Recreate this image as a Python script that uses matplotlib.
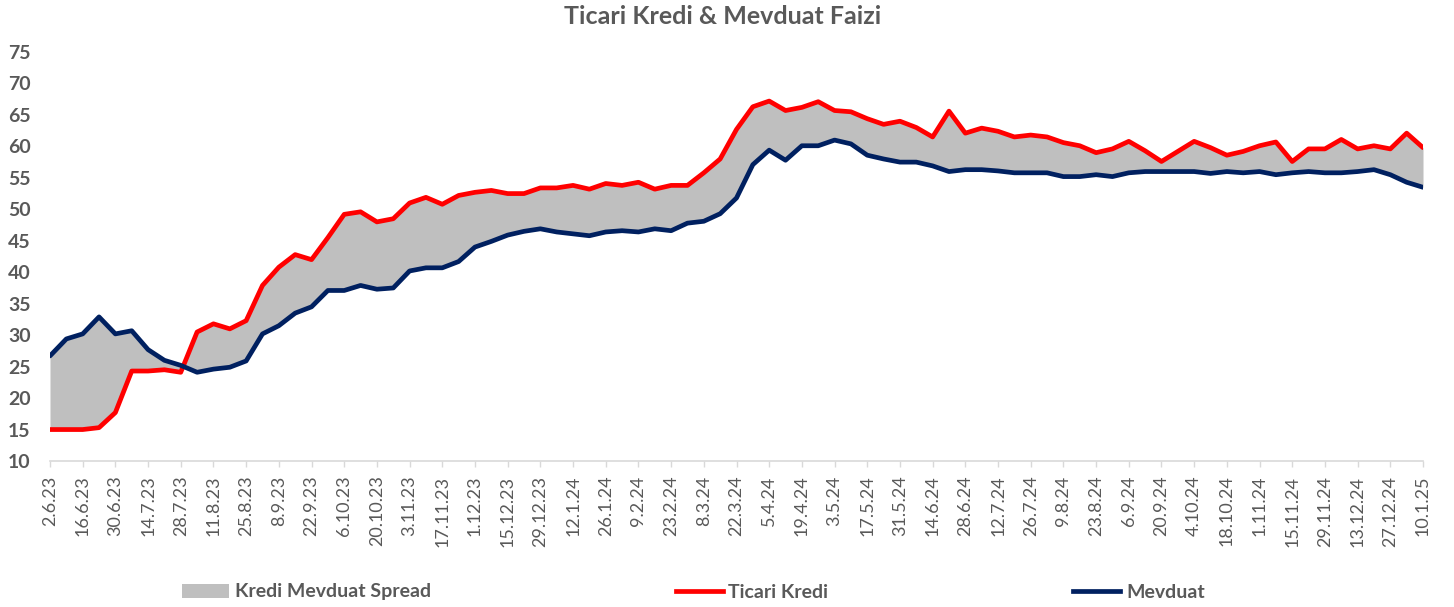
import numpy as np
import pandas as pd
import matplotlib
matplotlib.use("Agg")
import matplotlib.pyplot as plt
from matplotlib.patches import Patch
from matplotlib.lines import Line2D

plt.rcParams['font.family'] = ['Lato', 'DejaVu Sans']

# weekly dates, 2.6.23 .. 10.1.25
dates = pd.date_range("2023-06-02", "2025-01-10", freq="7D")
labels = [f"{d.day}.{d.month}.{d:%y}" for d in dates]

ticari = [15.0, 15.0, 15.0, 15.3, 17.7, 24.3, 24.3, 24.5, 24.1, 30.5,
          31.8, 31.0, 32.3, 37.9, 40.8, 42.8, 42.0, 45.5, 49.2, 49.6,
          48.0, 48.5, 51.0, 51.9, 50.8, 52.2, 52.7, 53.0, 52.5, 52.5,
          53.4, 53.4, 53.8, 53.2, 54.1, 53.8, 54.3, 53.2, 53.8, 53.8,
          55.8, 58.0, 62.7, 66.3, 67.2, 65.7, 66.2, 67.1, 65.7, 65.5,
          64.4, 63.5, 64.0, 63.0, 61.5, 65.6, 62.1, 62.9, 62.4, 61.5,
          61.8, 61.5, 60.6, 60.1, 59.0, 59.6, 60.8, 59.3, 57.6, 59.2,
          60.8, 59.8, 58.6, 59.2, 60.1, 60.7, 57.6, 59.6, 59.6, 61.1,
          59.6, 60.1, 59.6, 62.1, 59.8]

mevduat = [26.7, 29.4, 30.2, 32.9, 30.2, 30.7, 27.7, 26.0, 25.2, 24.1,
           24.6, 24.9, 25.9, 30.2, 31.5, 33.5, 34.5, 37.1, 37.1, 37.9,
           37.3, 37.5, 40.2, 40.7, 40.7, 41.7, 44.0, 44.9, 45.9, 46.5,
           46.9, 46.4, 46.1, 45.8, 46.4, 46.6, 46.4, 46.9, 46.6, 47.8,
           48.1, 49.3, 51.8, 57.1, 59.4, 57.8, 60.1, 60.1, 61.0, 60.4,
           58.6, 58.0, 57.5, 57.5, 56.9, 56.0, 56.3, 56.3, 56.1, 55.8,
           55.8, 55.8, 55.2, 55.2, 55.5, 55.2, 55.8, 56.0, 56.0, 56.0,
           56.0, 55.7, 56.0, 55.8, 56.0, 55.5, 55.8, 56.0, 55.8, 55.8,
           56.0, 56.3, 55.5, 54.3, 53.5]

txt = "#595959"
x = np.arange(len(dates))

fig = plt.figure(figsize=(14.54, 6.07), dpi=100)
ax = fig.add_axes([50/1454, 146/607, 1373/1454, 409/607])

ax.fill_between(x, ticari, mevduat, color="#bfbfbf", lw=0)
ax.plot(x, ticari, color="#ff0000", lw=3.4, solid_capstyle="round", solid_joinstyle="round")
ax.plot(x, mevduat, color="#002060", lw=3.4, solid_capstyle="round", solid_joinstyle="round")

ax.set_xlim(0, len(x) - 1)
ax.set_ylim(10, 75)
ax.set_yticks(range(10, 76, 5))
ax.set_xticks(x[::2])
ax.set_xticklabels(labels[::2], rotation=90, fontsize=13, color=txt)
for t in ax.get_yticklabels():
    t.set_fontsize(14)
    t.set_fontweight("bold")
    t.set_color(txt)
ax.tick_params(axis="y", length=0, pad=14)
ax.tick_params(axis="x", length=4.5, width=1, color="#d9d9d9", pad=6)

for s in ["top", "right", "left"]:
    ax.spines[s].set_visible(False)
ax.spines["bottom"].set_color("#d9d9d9")
ax.spines["bottom"].set_linewidth(1.2)

fig.text(0.497, 1 - 17/607, "Ticari Kredi & Mevduat Faizi", ha="center", va="center",
         fontsize=18, fontweight="bold", color=txt)

handles = [Patch(facecolor="#bfbfbf", edgecolor="none"),
           Line2D([], [], color="#ff0000", lw=3.4),
           Line2D([], [], color="#002060", lw=3.4)]
leg = fig.legend(handles, ["Kredi Mevduat Spread", "Ticari Kredi", "Mevduat"],
                 loc="center", bbox_to_anchor=(0.477, 1 - 592/607), ncol=3,
                 frameon=False, handlelength=2.4, handletextpad=0.3,
                 columnspacing=12.6, prop={"size": 14, "weight": "bold"})
for t in leg.get_texts():
    t.set_color(txt)

fig.savefig("out.png", dpi=100)
